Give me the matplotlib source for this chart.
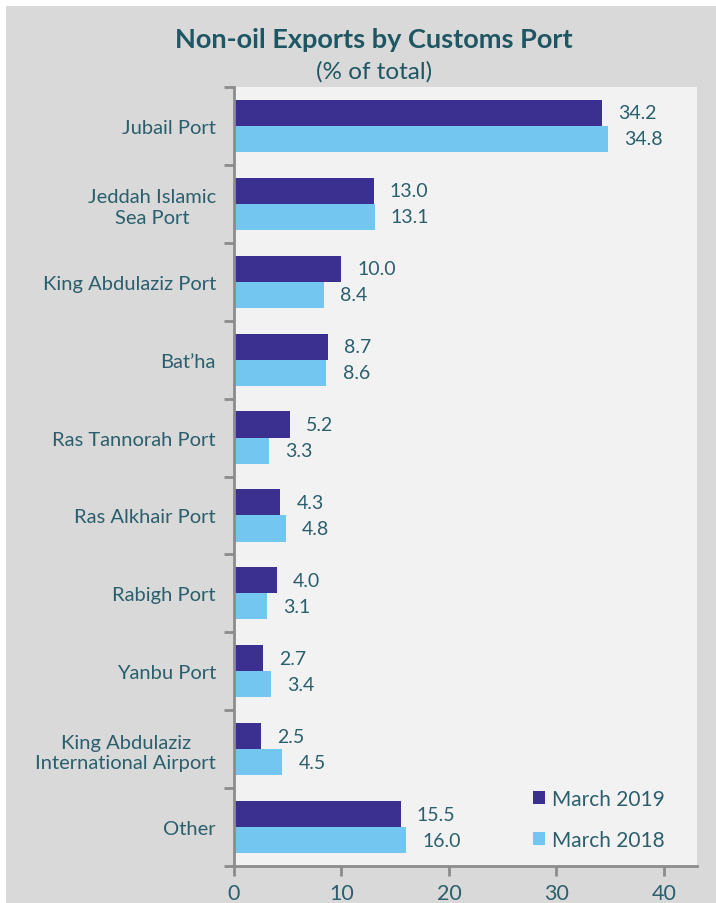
import numpy as np
import matplotlib.pyplot as plt
from matplotlib.patches import Rectangle

# Data
ports = ["Jubail Port", "Jeddah Islamic\nSea Port", "King Abdulaziz Port", "Bat\u2019ha",
         "Ras Tannorah Port", "Ras Alkhair Port", "Rabigh Port", "Yanbu Port",
         "King Abdulaziz\nInternational Airport", "Other"]
mar_2019 = [34.2, 13.0, 10.0, 8.7, 5.2, 4.3, 4.0, 2.7, 2.5, 15.5]
mar_2018 = [34.8, 13.1, 8.4, 8.6, 3.3, 4.8, 3.1, 3.4, 4.5, 16.0]
xticks = [0, 10, 20, 30, 40]

# Colours
dark = "#3b2f8f"
light = "#72c6ef"
txt = "#2a5f6d"
title_c = "#1f5663"
spine_c = "#8c8c8c"

plt.rcParams['font.family'] = ['Lato', 'DejaVu Sans']

fig = plt.figure(figsize=(7.16, 9.04), dpi=100)
fig.patch.set_facecolor("white")
fig.patches.append(Rectangle((6 / 716, 0), 1, (904 - 7) / 904, transform=fig.transFigure,
                             facecolor="#d9d9d9", edgecolor="none", zorder=-1))

ax = fig.add_axes([234 / 716, 37 / 904, (697 - 234) / 716, (867 - 88) / 904])
ax.set_facecolor("#f2f2f2")

y = np.arange(len(ports))
h = 0.335
ax.barh(y - h / 2, mar_2019, height=h, color=dark, label="March 2019")
ax.barh(y + h / 2, mar_2018, height=h, color=light, label="March 2018")

for yi, v in zip(y, mar_2019):
    ax.text(v + 1.5, yi - h / 2, f"{v:.1f}", va="center", ha="left", fontsize=14, color=txt)
for yi, v in zip(y, mar_2018):
    ax.text(v + 1.5, yi + h / 2, f"{v:.1f}", va="center", ha="left", fontsize=14, color=txt)

ax.set_xlim(0, 43.07)
ax.set_ylim(9.5, -0.5)
ax.set_xticks(xticks)
ax.set_xticklabels([str(t) for t in xticks], fontsize=15.5, color=txt)

# category labels between boundary ticks
ax.set_yticks(np.arange(-0.5, 10, 1))
ax.set_yticklabels([])
ax.set_yticks(y, minor=True)
ax.set_yticklabels(ports, minor=True, fontsize=14.5, color=txt, ha="right",
                   multialignment="center", linespacing=1.25)
ax.tick_params(axis="y", which="minor", length=0, pad=13)
ax.tick_params(axis="y", which="major", length=7, width=2, color=spine_c)
ax.tick_params(axis="x", length=7, width=2, color=spine_c, pad=5)

for s in ["top", "right"]:
    ax.spines[s].set_visible(False)
for s in ["left", "bottom"]:
    ax.spines[s].set_color(spine_c)
    ax.spines[s].set_linewidth(2)

ax.legend(loc="lower right", frameon=False, fontsize=15, handlelength=0.6, handleheight=0.6,
          handletextpad=0.3, labelspacing=1.0, labelcolor=txt, bbox_to_anchor=(0.97, -0.003))

fig.text(374 / 716, 1 - 40 / 904, "Non-oil Exports by Customs Port", ha="center", va="center",
         fontsize=19.5, fontweight="bold", color=title_c)
fig.text(374 / 716, 1 - 72 / 904, "(% of total)", ha="center", va="center",
         fontsize=17.5, color=title_c)

fig.savefig("out.png", dpi=100)
